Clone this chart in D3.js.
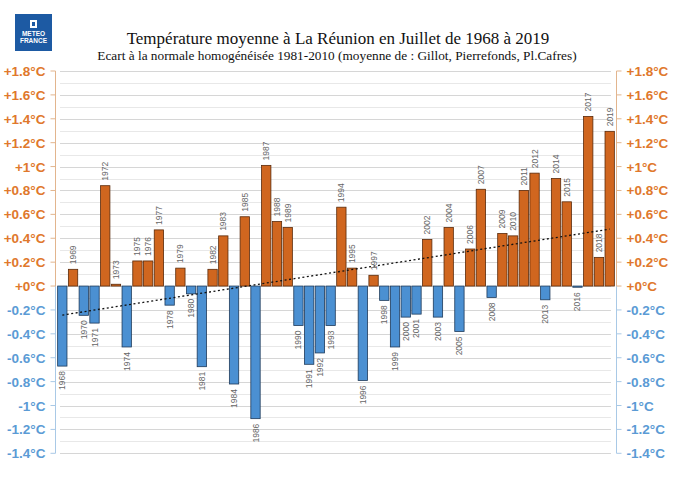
<!DOCTYPE html>
<html><head><meta charset="utf-8">
<script src="https://cdn.jsdelivr.net/npm/d3@7"></script>
<style>body{margin:0;background:#fff}svg{display:block}</style>
</head><body>
<script>
const years = d3.range(1968, 2020);
const anomalies = [-0.67,0.14,-0.245,-0.31,0.84,0.015,-0.51,0.21,0.21,0.47,
  -0.16,0.15,-0.065,-0.675,0.14,0.42,-0.82,0.58,-1.11,1.01,
  0.54,0.49,-0.33,-0.655,-0.56,-0.33,0.66,0.15,-0.79,0.09,
  -0.12,-0.51,-0.26,-0.235,0.39,-0.26,0.49,-0.38,0.31,0.81,
  -0.095,0.44,0.42,0.80,0.945,-0.115,0.90,0.705,-0.01,1.42,
  0.24,1.295];
const tickValues = [-1.4,-1.2,-1,-0.8,-0.6,-0.4,-0.2,0,0.2,0.4,0.6,0.8,1,1.2,1.4,1.6,1.8];
const title = "Température moyenne à La Réunion en Juillet de 1968 à 2019";
const subtitle = "Ecart à la normale homogénéisée 1981-2010 (moyenne de : Gillot, Pierrefonds, Pl.Cafres)";

const W = 675, H = 483;
const orange = "#d0661f", blue = "#4b90d2", orangeTxt = "#e0782c", blueTxt = "#5b9bd5";
const svg = d3.select("body").append("svg").attr("width", W).attr("height", H);

const x = d3.scaleBand().domain(years).range([57, 615]).paddingInner(0.13).paddingOuter(0.06);
const y = d3.scaleLinear().domain([-1.4, 1.8]).range([453.3, 71]);

// grid every 0.1
const gridVals = d3.range(-14, 19).map(d => d / 10);
svg.append("g").selectAll("line").data(gridVals).join("line")
  .attr("x1", 60).attr("x2", 611)
  .attr("y1", d => Math.round(y(d)) + 0.5).attr("y2", d => Math.round(y(d)) + 0.5)
  .attr("stroke", (d, i) => i % 2 === 0 ? "#d6d6d6" : "#e8e8e8").attr("stroke-width", 1);

// logo
const logo = svg.append("g").attr("transform", "translate(15,14)");
logo.append("rect").attr("width", 37).attr("height", 37).attr("fill", "#1d5aa3");
logo.append("rect").attr("x", 15).attr("y", 6).attr("width", 7).attr("height", 8).attr("fill", "#fff");
logo.append("rect").attr("x", 17).attr("y", 8).attr("width", 3).attr("height", 4).attr("fill", "#1d5aa3");
logo.append("text").attr("x", 18.5).attr("y", 22).attr("text-anchor", "middle")
  .attr("font-family", "Liberation Sans, Arial").attr("font-weight", "bold").attr("font-size", 6.5)
  .attr("fill", "#fff").text("METEO");
logo.append("text").attr("x", 18.5).attr("y", 29).attr("text-anchor", "middle")
  .attr("font-family", "Liberation Sans, Arial").attr("font-weight", "bold").attr("font-size", 6.5)
  .attr("fill", "#fff").text("FRANCE");

// titles
svg.append("text").attr("x", 338).attr("y", 44).attr("text-anchor", "middle")
  .attr("font-family", "Liberation Serif, Times New Roman, serif").attr("font-size", 17)
  .attr("fill", "#111").text(title);
svg.append("text").attr("x", 337).attr("y", 60).attr("text-anchor", "middle")
  .attr("font-family", "Liberation Serif, Times New Roman, serif").attr("font-size", 13.3)
  .attr("fill", "#111").text(subtitle);

// bars
const data = years.map((yr, i) => ({ yr, v: anomalies[i] }));
svg.append("g").selectAll("rect").data(data).join("rect")
  .attr("x", d => x(d.yr)).attr("width", x.bandwidth())
  .attr("y", d => y(Math.max(0, d.v))).attr("height", d => Math.abs(y(d.v) - y(0)))
  .attr("fill", d => d.v >= 0 ? orange : blue)
  .attr("stroke", d => d.v >= 0 ? "#5a2a0a" : "#1e3a5a").attr("stroke-width", 0.8);

// year labels
svg.append("g").selectAll("text").data(data).join("text")
  .attr("transform", d => {
    const cx = x(d.yr) + x.bandwidth() / 2 + 3;
    const yy = d.v >= 0 ? y(d.v) - 5 : y(d.v) + 5;
    return `translate(${cx},${yy}) rotate(-90)`;
  })
  .attr("text-anchor", d => d.v >= 0 ? "start" : "end")
  .attr("font-family", "Liberation Sans, Arial").attr("font-size", 8.5)
  .attr("fill", "#666").text(d => d.yr);

// trend line (least squares)
const mx = d3.mean(years), my = d3.mean(anomalies);
const slope = d3.sum(years, (yr, i) => (yr - mx) * (anomalies[i] - my)) / d3.sum(years, yr => (yr - mx) ** 2);
const icpt = my - slope * mx;
const cx = yr => x(yr) + x.bandwidth() / 2;
svg.append("line")
  .attr("x1", cx(1968)).attr("y1", y(icpt + slope * 1968))
  .attr("x2", cx(2019)).attr("y2", y(icpt + slope * 2019))
  .attr("stroke", "#111").attr("stroke-width", 1.3).attr("stroke-dasharray", "2,2.5");

// axes
function drawAxis(xPos, side) {
  const g = svg.append("g");
  g.append("line").attr("x1", xPos).attr("x2", xPos).attr("y1", y(1.8)).attr("y2", y(0)).attr("stroke", "#e2b58e");
  g.append("line").attr("x1", xPos).attr("x2", xPos).attr("y1", y(0)).attr("y2", y(-1.4)).attr("stroke", "#a9c9e6");
  g.selectAll(".tk").data(tickValues).join("line")
    .attr("x1", xPos).attr("x2", xPos + side * 5)
    .attr("y1", d => y(d)).attr("y2", d => y(d))
    .attr("stroke", d => d >= 0 ? "#e2b58e" : "#a9c9e6");
  g.selectAll("text").data(tickValues).join("text")
    .attr("x", xPos + side * 10).attr("y", d => y(d) + 5)
    .attr("text-anchor", side < 0 ? "end" : "start")
    .attr("font-family", "Liberation Sans, Arial").attr("font-weight", "bold").attr("font-size", 13.5)
    .attr("fill", d => d >= 0 ? orangeTxt : blueTxt)
    .text(d => (d >= 0 ? "+" : "") + (+d.toFixed(1)) + "°C");
}
drawAxis(55.5, -1);
drawAxis(616.5, 1);
</script>
</body></html>
